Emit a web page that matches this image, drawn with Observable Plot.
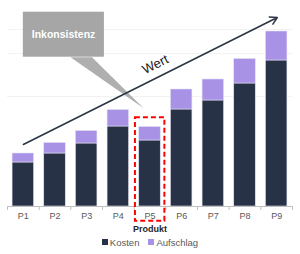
<!DOCTYPE html>
<html>
<head>
<meta charset="utf-8">
<script src="https://cdn.jsdelivr.net/npm/d3@7"></script>
<script src="https://cdn.jsdelivr.net/npm/@observablehq/plot@0.6"></script>
<style>
  body { margin: 0; background: #fff; font-family: "Liberation Sans", Arial, sans-serif; }
  #legend { width: 300px; height: 16px; display: flex; justify-content: center; align-items: center; gap: 9px; font-size: 9.5px; color: #595959; }
  #legend span.sw { display: inline-block; width: 6px; height: 6px; margin-right: 2px; vertical-align: middle; }
  #legend .item { display: flex; align-items: center; }
</style>
</head>
<body>
<div id="chart"></div>
<div id="legend"></div>
<script>
const products = ["P1","P2","P3","P4","P5","P6","P7","P8","P9"];
const kosten = [44, 53, 63, 80, 66, 97, 106, 123, 146];
const aufschlag = [9, 10.5, 12.5, 16.5, 13.5, 20, 21, 24.5, 29];
const seriesNames = ["Kosten", "Aufschlag"];
const seriesColors = ["#283246", "#a892e6"];
const gridValues = [110, 153, 177];

// annotation anchors in data units (x = product index, y = value units)
const arrowPts = {x1: 0.0, y1: 62, x2: 8.02, y2: 189};
const wertLabel = {x: 4.17, y: 142, text: "Wert"};
const calloutBox = {x1: 0.0, x2: 2.56, y1: 149.3, y2: 194.3};
const calloutPointer = [
  {x: 1.49, y: 149.3}, {x: 3.8, y: 98.3}, {x: 2.17, y: 149.3}
];
const calloutText = {x: 1.27, y: 172, text: "Inkonsistenz"};
const highlightIndex = 4;
const highlightBox = {x1: highlightIndex - 0.46, x2: highlightIndex + 0.47, y1: -14.7, y2: 88.7};

const rows = [];
products.forEach((p, i) => {
  rows.push({i, product: p, series: "Kosten", value: kosten[i]});
  rows.push({i, product: p, series: "Aufschlag", value: aufschlag[i]});
});
const half = 0.34;
const boundaries = d3.range(products.length + 1).map(k => k - 0.5);

const chart = Plot.plot({
  width: 300,
  height: 234,
  marginLeft: 7,
  marginRight: 8,
  marginTop: 6,
  marginBottom: 28,
  style: {fontFamily: "'Liberation Sans', Arial, sans-serif", background: "#fff", overflow: "visible"},
  x: {domain: [-0.5, products.length - 0.5], axis: null},
  y: {domain: [0, 200], axis: null},
  color: {domain: seriesNames, range: seriesColors},
  marks: [
    Plot.ruleY(gridValues, {stroke: "#f2f2f2", strokeWidth: 1}),
    Plot.rectY(rows, {
      x1: d => d.i - half, x2: d => d.i + half, y: "value",
      fill: "series", stroke: "#e4e0f4", strokeWidth: 0.6,
      order: seriesNames
    }),
    Plot.ruleY([0], {stroke: "#bfbfbf", strokeWidth: 1}),
    Plot.axisX({ticks: boundaries, tickSize: 4, tickFormat: () => "", stroke: "#bfbfbf", label: null}),
    Plot.axisX({ticks: d3.range(products.length), tickSize: 0, tickPadding: 6,
      tickFormat: i => products[i], fill: "#595959", fontSize: 9, label: null}),
    Plot.text(["Produkt"], {frameAnchor: "bottom", lineAnchor: "middle", dy: 23, fontWeight: "bold", fontSize: 9, fill: "#262626"}),
    Plot.rect([calloutBox], {x1: "x1", x2: "x2", y1: "y1", y2: "y2", fill: "#a6a6a6"}),
    Plot.line(calloutPointer, {x: "x", y: "y", fill: "#ababab", stroke: "none", fillOpacity: 0.95}),
    Plot.text([calloutText], {x: "x", y: "y", text: "text", fill: "white", fontWeight: "bold", fontSize: 10.5, style: "letter-spacing:0.3px"}),
    Plot.arrow([arrowPts], {x1: "x1", y1: "y1", x2: "x2", y2: "y2", stroke: "#2b3344", strokeWidth: 1.5, headLength: 8}),
    Plot.text([wertLabel], {x: "x", y: "y", text: "text", rotate: -26.5, fontSize: 13, fill: "#1a1a1a"}),
    Plot.rect([highlightBox], {x1: "x1", x2: "x2", y1: "y1", y2: "y2", fill: "none", stroke: "#ff0000", strokeWidth: 2, strokeDasharray: "5,3"})
  ]
});
document.getElementById("chart").appendChild(chart);

const legend = document.getElementById("legend");
seriesNames.forEach((name, k) => {
  const item = document.createElement("div");
  item.className = "item";
  const sw = document.createElement("span");
  sw.className = "sw";
  sw.style.background = seriesColors[k];
  item.appendChild(sw);
  item.appendChild(document.createTextNode(name));
  legend.appendChild(item);
});
</script>
</body>
</html>
